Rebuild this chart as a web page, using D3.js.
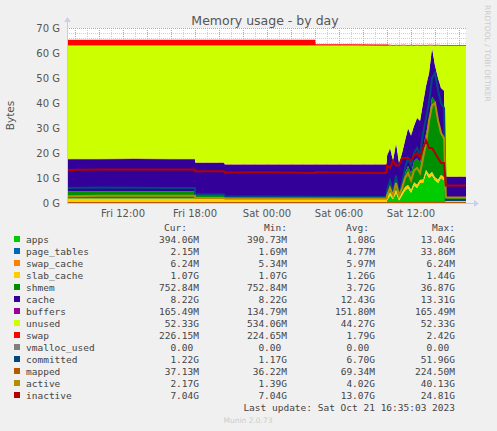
<!DOCTYPE html>
<html>
<head>
<meta charset="utf-8">
<script src="https://cdn.jsdelivr.net/npm/d3@7"></script>
<style>
  body { margin: 0; background: #f0f0f0; }
  text { font-family: "DejaVu Sans", sans-serif; }
  .mono { font-family: "DejaVu Sans Mono", monospace; font-size: 9.5px; fill: #444; white-space: pre; }
</style>
</head>
<body>
<div id="chart"></div>
<script>
// hours since Fri 00:00
let hours = [7.33, 10, 13, 16, 17.99, 18.0, 20.4, 20.5, 24, 28, 28.05, 31, 33.95,
    34.0, 34.25, 34.5, 34.75, 35, 35.25, 35.5, 35.75, 36, 36.25, 36.5, 36.75, 37, 37.25, 37.5, 37.75, 38, 38.25, 38.5, 38.75,
    38.9, 40.58];

// values in G
let apps = [0.4, 0.4, 0.4, 0.4, 0.4, 0.3, 0.3, 0.25, 0.25, 0.25, 0.25, 0.25, 0.25,
    1, 3, 1.5, 4, 1, 3, 5, 6, 4, 7, 6, 8, 8, 12, 10, 11, 9, 8, 10, 9,
    0.39, 0.39];
let page_tables = [0.005, 0.005, 0.005, 0.005, 0.005, 0.005, 0.005, 0.005, 0.005, 0.005, 0.005, 0.005, 0.005,
    0.01, 0.02, 0.01, 0.02, 0.01, 0.02, 0.02, 0.03, 0.02, 0.03, 0.03, 0.03, 0.03, 0.03, 0.03, 0.034, 0.03, 0.03, 0.03, 0.03,
    0.002, 0.002];
let swap_cache = [0.006, 0.006, 0.006, 0.006, 0.006, 0.006, 0.006, 0.006, 0.006, 0.006, 0.006, 0.006, 0.006,
    0.006, 0.006, 0.006, 0.006, 0.006, 0.006, 0.006, 0.006, 0.006, 0.006, 0.006, 0.006, 0.006, 0.006, 0.006, 0.006, 0.006, 0.006, 0.006, 0.006,
    0.006, 0.006];
let slab_cache = [1.4, 1.4, 1.4, 1.4, 1.4, 1.4, 1.4, 1.2, 1.2, 1.2, 1.2, 1.2, 1.2,
    1.3, 1.4, 1.3, 1.4, 1.3, 1.35, 1.4, 1.3, 1.4, 1.3, 1.4, 1.3, 1.4, 1.3, 1.4, 1.44, 1.3, 1.4, 1.3, 1.3,
    1.07, 1.07];
let shmem = [2.8, 2.8, 2.8, 2.8, 2.8, 1.5, 1.5, 0.6, 0.6, 0.6, 0.6, 0.6, 0.6,
    2.5, 4.5, 1.5, 5, 1, 2.5, 5.5, 7.5, 6.5, 8.5, 10.5, 7, 12.5, 14.5, 21.5, 30, 30.5, 22.5, 16.5, 14.5,
    0.75, 0.75];
let cache = [12.9, 12.9, 13.0, 12.9, 12.9, 12.8, 12.8, 13.25, 13.25, 13.25, 13.25, 13.25, 13.3,
    14.0, 13.0, 12.5, 13.5, 12.5, 13.0, 13.0, 15.0, 15.0, 14.0, 16.0, 16.5, 18.0, 19.0, 19.0, 19.5, 14.0, 18.0, 18.0, 20.0,
    8.22, 8.22];
let buffers = [0.15, 0.15, 0.15, 0.15, 0.15, 0.15, 0.15, 0.15, 0.15, 0.15, 0.15, 0.15, 0.15,
    0.15, 0.15, 0.15, 0.15, 0.15, 0.15, 0.15, 0.15, 0.15, 0.15, 0.15, 0.15, 0.15, 0.15, 0.15, 0.15, 0.15, 0.15, 0.15, 0.15,
    0.165, 0.165];
let unused = [45.3, 45.3, 45.2, 45.3, 45.3, 46.8, 46.8, 47.5, 47.5, 47.5, 47.5, 47.5, 47.4,
    43.95, 40.95, 45.95, 38.95, 46.95, 42.95, 37.95, 32.95, 35.95, 31.95, 28.95, 29.95, 22.95, 15.95, 10.95, 0.85, 7.95, 12.95, 16.95, 17.95,
    52.33, 52.33];
let swap = [2.35, 2.35, 2.35, 2.35, 2.35, 2.35, 2.35, 2.35, 2.35, 2.35, 0.5, 0.5, 0.5,
    0.45, 0.3, 0.3, 0.3, 0.3, 0.3, 0.3, 0.3, 0.3, 0.3, 0.3, 0.3, 0.3, 0.3, 0.3, 0.3, 0.3, 0.3, 0.3, 0.3,
    0.226, 0.226];
let vmalloc_used = [0, 0, 0, 0, 0, 0, 0, 0, 0, 0, 0, 0, 0,
    0, 0, 0, 0, 0, 0, 0, 0, 0, 0, 0, 0, 0, 0, 0, 0, 0, 0, 0, 0,
    0, 0];
let committed = [6.0, 6.2, 6.1, 6.0, 6.0, 3.5, 3.5, 2.7, 2.6, 2.5, 2.5, 2.4, 2.4,
    5, 9, 4, 11, 3, 8, 14, 18, 15, 20, 22, 19, 28, 34, 40, 50, 52, 45, 40, 38,
    1.22, 1.22];
let mapped = [0.04, 0.04, 0.04, 0.04, 0.04, 0.04, 0.04, 0.04, 0.04, 0.04, 0.04, 0.04, 0.04,
    0.05, 0.07, 0.05, 0.08, 0.05, 0.07, 0.09, 0.1, 0.09, 0.11, 0.12, 0.11, 0.14, 0.16, 0.18, 0.22, 0.2, 0.18, 0.16, 0.15,
    0.037, 0.037];
let active = [2.7, 2.9, 2.9, 2.9, 2.9, 2.0, 2.0, 1.8, 1.8, 1.8, 1.8, 1.8, 1.8,
    3, 6, 3, 8, 3, 6, 10, 12, 9, 13, 14, 12, 18, 24, 33, 39, 40, 33, 28, 26,
    2.17, 2.17];
let inactive = [13.2, 13.4, 13.4, 13.4, 13.4, 12.7, 12.7, 12.2, 12.3, 12.0, 12.3, 12.1, 12.0,
    15, 14, 17, 15, 15, 18, 18, 18, 17, 19, 20, 18, 22, 25, 22, 22, 20, 18, 16, 16,
    7.04, 7.04];

let names = ["apps", "page_tables", "swap_cache", "slab_cache", "shmem", "cache", "buffers", "unused", "swap",
    "vmalloc_used", "committed", "mapped", "active", "inactive"];
let colors = ["#00CC00", "#0066B3", "#FF8000", "#FFCC00", "#008F00", "#330099", "#990099", "#CCFF00", "#FF0000",
    "#808080", "#00487D", "#B35A00", "#B38F00", "#B30000"];
let series = [apps, page_tables, swap_cache, slab_cache, shmem, cache, buffers, unused, swap,
    vmalloc_used, committed, mapped, active, inactive];
let curCol = ["394.06M", "2.15M", "6.24M", "1.07G", "752.84M", "8.22G", "165.49M", "52.33G", "226.15M", "0.00 ", "1.22G", "37.13M", "2.17G", "7.04G"];
let minCol = ["390.73M", "1.69M", "5.34M", "1.07G", "752.84M", "8.22G", "134.79M", "534.06M", "224.65M", "0.00 ", "1.17G", "36.22M", "1.39G", "7.04G"];
let avgCol = ["1.08G", "4.77M", "5.97M", "1.26G", "3.72G", "12.43G", "151.80M", "44.27G", "1.79G", "0.00 ", "6.70G", "69.34M", "4.02G", "13.07G"];
let maxCol = ["13.04G", "33.86M", "6.24M", "1.44G", "36.87G", "13.31G", "165.49M", "52.33G", "2.42G", "0.00 ", "51.96G", "224.50M", "40.13G", "24.81G"];
let yTicks = [0, 10, 20, 30, 40, 50, 60, 70];
let xTicks = [12, 18, 24, 30, 36];
let xTickLabels = ["Fri 12:00", "Fri 18:00", "Sat 00:00", "Sat 06:00", "Sat 12:00"];

let width = 497, height = 431;
let pl = 67, pr = 466, pt = 28, pb = 203;

let svg = d3.select("#chart").append("svg")
    .attr("width", width).attr("height", height);

let x = d3.scaleLinear().domain([7.33, 40.58]).range([pl, pr]);
let y = d3.scaleLinear().domain([0, 70]).range([pb, pt]);

svg.append("rect").attr("x", pl).attr("y", pt).attr("width", pr - pl).attr("height", pb - pt).attr("fill", "#fff");

// grid
svg.append("g").selectAll("line").data(d3.range(0, 70.1, 2)).enter().append("line")
    .attr("x1", pl).attr("x2", pr).attr("y1", d => Math.round(y(d)) + 0.5).attr("y2", d => Math.round(y(d)) + 0.5)
    .attr("stroke", "#d0d0d0").attr("stroke-dasharray", "1,1");
svg.append("g").selectAll("line").data(d3.range(8, 40.6, 1)).enter().append("line")
    .attr("x1", d => Math.round(x(d)) + 0.5).attr("x2", d => Math.round(x(d)) + 0.5).attr("y1", pt).attr("y2", pb)
    .attr("stroke", "#d0d0d0").attr("stroke-dasharray", "1,1");
svg.append("g").selectAll("line").data(yTicks).enter().append("line")
    .attr("x1", pl).attr("x2", pr).attr("y1", d => Math.round(y(d)) + 0.5).attr("y2", d => Math.round(y(d)) + 0.5)
    .attr("stroke", "#e89090").attr("stroke-dasharray", "1,1");
svg.append("g").selectAll("line").data(d3.range(8, 40.6, 2)).enter().append("line")
    .attr("x1", d => Math.round(x(d)) + 0.5).attr("x2", d => Math.round(x(d)) + 0.5).attr("y1", pt).attr("y2", pb)
    .attr("stroke", "#e89090").attr("stroke-dasharray", "1,1");

// stacked areas
let rows = hours.map((h, i) => {
    let r = { h: h };
    names.slice(0, 9).forEach((n, k) => r[n] = series[k][i]);
    return r;
});
let stack = d3.stack().keys(names.slice(0, 9))(rows);
let area = d3.area().x(d => x(d.data.h)).y0(d => y(d[0])).y1(d => y(d[1]));
svg.append("g").selectAll("path").data(stack).enter().append("path")
    .attr("d", area)
    .attr("fill", (d, i) => colors[i]);

// lines
let line = d3.line().x((d, i) => x(hours[i])).y(d => y(d));
svg.append("g").selectAll("path").data(series.slice(9)).enter().append("path")
    .attr("d", line)
    .attr("fill", "none")
    .attr("stroke-width", 2)
    .attr("stroke", (d, i) => colors[9 + i]);

// axes
svg.append("line").attr("x1", pl).attr("x2", pr + 8).attr("y1", pb + 0.5).attr("y2", pb + 0.5).attr("stroke", "#ccc");
svg.append("line").attr("x1", pl + 0.5).attr("x2", pl + 0.5).attr("y1", pb).attr("y2", pt - 6).attr("stroke", "#ccc");
svg.append("path").attr("d", `M${pr + 8},${pb - 3}L${pr + 13},${pb + 0.5}L${pr + 8},${pb + 4}Z`).attr("fill", "#c8d0f0");
svg.append("path").attr("d", `M${pl - 3},${pt - 6}L${pl + 0.5},${pt - 11}L${pl + 4},${pt - 6}Z`).attr("fill", "#c8d0f0");

svg.append("g").selectAll("text").data(yTicks).enter().append("text")
    .attr("x", pl - 7).attr("y", d => y(d) + 4)
    .attr("text-anchor", "end").attr("font-size", 10).attr("fill", "#555")
    .text(d => d + " G");
svg.append("g").selectAll("text").data(xTicks).enter().append("text")
    .attr("x", d => x(d)).attr("y", pb + 14)
    .attr("text-anchor", "middle").attr("font-size", 10).attr("fill", "#555")
    .text((d, i) => xTickLabels[i]);

svg.append("text").attr("x", 265).attr("y", 25).attr("text-anchor", "middle")
    .attr("font-size", 12.5).attr("fill", "#555").text("Memory usage - by day");
svg.append("text").attr("transform", `translate(14, ${(pt + pb) / 2})rotate(-90)`)
    .attr("text-anchor", "middle").attr("font-size", 10.5).attr("fill", "#555").text("Bytes");
svg.append("text").attr("transform", `translate(485, 5)rotate(90)`)
    .attr("font-size", 7.5).attr("fill", "#ccc").text("RRDTOOL / TOBI OETIKER");

// legend
let heads = [["Cur:", 187], ["Min:", 287], ["Avg:", 369], ["Max:", 455]];
svg.append("g").selectAll("text").data(heads).enter().append("text")
    .attr("class", "mono").attr("x", d => d[1]).attr("y", 231).attr("text-anchor", "end").text(d => d[0]);

let legend = svg.append("g").selectAll("g").data(names).enter().append("g")
    .attr("transform", (d, i) => `translate(0, ${243 + i * 12})`);
legend.append("rect").attr("x", 14).attr("y", -7).attr("width", 6).attr("height", 6)
    .attr("fill", (d, i) => colors[i]);
legend.append("text").attr("class", "mono").attr("x", 26).attr("y", 0).text(d => d);
[[curCol, 199], [minCol, 287], [avgCol, 375], [maxCol, 455]].forEach(c => {
    legend.append("text").attr("class", "mono").attr("x", c[1]).attr("y", 0)
        .attr("text-anchor", "end").text((d, i) => c[0][i]);
});
svg.append("text").attr("class", "mono").attr("x", 455).attr("y", 411).attr("text-anchor", "end")
    .text("Last update: Sat Oct 21 16:35:03 2023");
svg.append("text").attr("x", 248).attr("y", 423).attr("text-anchor", "middle")
    .attr("font-size", 7.5).attr("fill", "#ccc").text("Munin 2.0.73");
</script>
</body>
</html>
